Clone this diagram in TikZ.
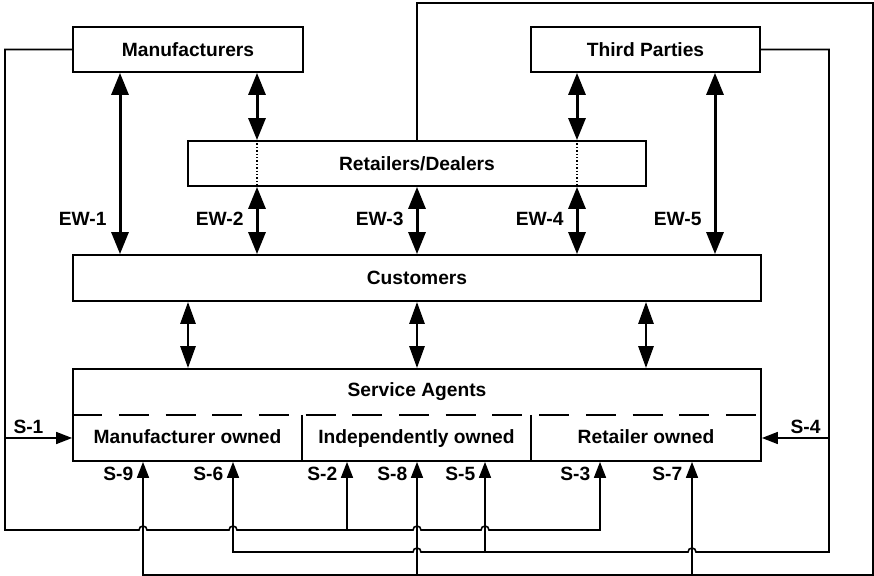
\documentclass[tikz,border=0pt]{standalone}
\usepackage{fontspec}
\setmainfont{Liberation Sans}
\usetikzlibrary{arrows.meta}
\tikzset{
  party/.style={draw, line width=0.9pt, fill=white, inner sep=0pt,
  font=\bfseries\fontsize{9.6}{11}\selectfont},
  tagtext/.style={font=\bfseries\fontsize{9.6}{11}\selectfont, inner sep=0pt},
  ewlink/.style={line width=1.5pt, >={Triangle[length=11pt,width=8.5pt]}},
  calink/.style={line width=1.4pt, >={Triangle[length=11pt,width=7.5pt]}},
  slink/.style={line width=0.8pt, >={Triangle[length=8pt,width=6pt]}},
  ewtag/.style={tagtext, anchor=east, xshift=-6pt, yshift=17.5pt},
  stag/.style={tagtext, anchor=east, xshift=-4.5pt, yshift=-6pt},
  passby/.style={line width=0.7pt, densely dotted},
}
% a small hump where a horizontal wire jumps over a vertical one
\newcommand{\hop}[2]{-- ([xshift=-2pt]#1 |- #2) arc[start angle=180, end angle=0, radius=2pt]}

\begin{document}
\begin{tikzpicture}[x=0.5pt, y=-0.5pt]
\useasboundingbox (0,0) rectangle (874,576);

% rails and bus levels
\coordinate (top) at (0,3);
\coordinate (lrail) at (5,0);
\coordinate (rrail) at (829,0);
\coordinate (orail) at (873,0);
\coordinate (sy) at (0,438);
\coordinate (bus1) at (0,530);
\coordinate (bus2) at (0,552);
\coordinate (bus3) at (0,575);

% columns of the warranty arrows
\foreach \x [count=\i] in {120,257,417,577,715}
  \coordinate (ew\i) at (\x,0);
\foreach \x [count=\i] in {188,417,646}
  \coordinate (ca\i) at (\x,0);

% columns of the service arrows
\coordinate (s9) at (143,0);
\coordinate (s6) at (233,0);
\coordinate (s2) at (347,0);
\coordinate (s8) at (417,0);
\coordinate (s5) at (485,0);
\coordinate (s3) at (600,0);
\coordinate (s7) at (692,0);

% Boxes
\node[party, minimum width=115pt, minimum height=22.5pt] (mfr) at (188,49.5) {Manufacturers};
\node[party, minimum width=114.5pt, minimum height=22.5pt] (third) at (645.5,49.5) {Third Parties};
\node[party, minimum width=229pt, minimum height=22.5pt] (retail) at (417,163.5) {Retailers/Dealers};
\node[party, minimum width=344pt, minimum height=23pt] (cust) at (417,278) {Customers};
\node[party, minimum width=344pt, minimum height=46pt] (agents) at (417,415) {};

% Service agents split in three
\node[tagtext] (satitle) at (417,392) {Service Agents};
\node[tagtext, anchor=base] (own1) at (187.5,444) {Manufacturer owned};
\node[tagtext, anchor=base] (own2) at (416.5,444) {Independently owned};
\node[tagtext, anchor=base] (own3) at (646,444) {Retailer owned};
\coordinate (div1) at (302,415);
\coordinate (div2) at (531,415);
\draw[line width=0.9pt, dash pattern=on 15pt off 8.35pt] (agents.west |- div1) -- (agents.east |- div1);
\draw[line width=0.6pt] (div1) -- (div1 |- agents.south) (div2) -- (div2 |- agents.south);

% Warranty links
\draw[ewlink, <->] (mfr.south -| ew1) -- (cust.north -| ew1) node[ewtag] {EW-1};
\draw[ewlink, <->] (mfr.south -| ew2) -- (retail.north -| ew2);
\draw[passby] (retail.north -| ew2) -- (retail.south -| ew2);
\draw[ewlink, <->] (retail.south -| ew2) -- (cust.north -| ew2) node[ewtag] {EW-2};
\draw[ewlink, <->] (retail.south -| ew3) -- (cust.north -| ew3) node[ewtag] {EW-3};
\draw[ewlink, <->] (third.south -| ew4) -- (retail.north -| ew4);
\draw[passby] (retail.north -| ew4) -- (retail.south -| ew4);
\draw[ewlink, <->] (retail.south -| ew4) -- (cust.north -| ew4) node[ewtag] {EW-4};
\draw[ewlink, <->] (third.south -| ew5) -- (cust.north -| ew5) node[ewtag] {EW-5};

% Customers to service agents
\foreach \c in {ca1,ca2,ca3}
  \draw[calink, <->] (cust.south -| \c) -- (agents.north -| \c);

% Manufacturers: S-1, S-2, S-3
\draw[slink, ->] (mfr.west) -| (lrail |- bus1) \hop{s9}{bus1} \hop{s6}{bus1}
  \hop{s8}{bus1} \hop{s5}{bus1} -| (s3 |- agents.south) node[stag] {S-3};
\draw[slink, ->] (lrail |- sy) -- (agents.west |- sy) node[tagtext, pos=0.35, above=2pt] {S-1};
\draw[slink, ->] (s2 |- bus1) -- (s2 |- agents.south) node[stag] {S-2};

% Third parties: S-4, S-5, S-6
\draw[slink, <-] (s6 |- agents.south) node[stag] {S-6} -- (s6 |- bus2) \hop{s8}{bus2}
  \hop{s7}{bus2} -| (rrail |- third.east) -- (third.east);
\draw[slink, ->] (rrail |- sy) -- (agents.east |- sy) node[tagtext, pos=0.35, above=2pt] {S-4};
\draw[slink, ->] (s5 |- bus2) -- (s5 |- agents.south) node[stag] {S-5};

% Retailers/dealers: S-7, S-8, S-9
\draw[slink, ->] (retail.north) -- (retail.north |- top) -| (orail |- bus3)
  -| (s9 |- agents.south) node[stag] {S-9};
\draw[slink, ->] (s8 |- bus3) -- (s8 |- agents.south) node[stag] {S-8};
\draw[slink, ->] (s7 |- bus3) -- (s7 |- agents.south) node[stag] {S-7};

\end{tikzpicture}
\end{document}
